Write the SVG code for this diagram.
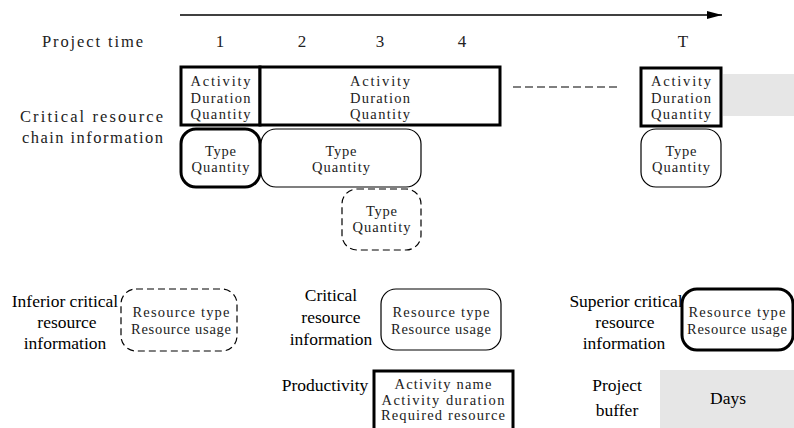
<svg xmlns="http://www.w3.org/2000/svg" width="794" height="428" viewBox="0 0 794 428">
<style>
.mono{font-family:"Liberation Serif","Times New Roman",serif;font-size:16.5px;fill:#222}
.bx{font-family:"Liberation Serif","Times New Roman",serif;font-size:14.5px;fill:#222;text-anchor:middle}
.lbl{font-family:"Liberation Serif","Times New Roman",serif;font-size:17.5px;fill:#000;text-anchor:middle}
.thick{fill:#fff;stroke:#000;stroke-width:3}
.thin{fill:#fff;stroke:#000;stroke-width:1.2}
.dash{fill:#fff;stroke:#000;stroke-width:1.2;stroke-dasharray:7,4}
.grey{fill:#e6e6e6}
</style>
<defs>
<marker id="ah" markerWidth="15" markerHeight="8" refX="15" refY="4" orient="auto" markerUnits="userSpaceOnUse">
<path d="M0,0 L15,4 L0,8 Z" fill="#000"/>
</marker>
</defs>
<rect width="794" height="428" fill="#fff"/>

<g id="connectors">
<line x1="180" y1="15" x2="722" y2="15" stroke="#000" stroke-width="1.3" marker-end="url(#ah)"/>
<line x1="513" y1="87" x2="620" y2="87" stroke="#000" stroke-width="1.2" stroke-dasharray="8,4"/>
</g>

<g id="timeline-labels">
<text class="mono" x="42" y="47" textLength="101">Project time</text>
<g font-family="Liberation Serif, serif" font-size="17" text-anchor="middle" fill="#222">
<text x="220" y="47">1</text>
<text x="302" y="47">2</text>
<text x="380" y="47">3</text>
<text x="462" y="47">4</text>
<text x="683" y="47">T</text>
</g>
<text class="mono" x="20" y="122" textLength="143">Critical resource</text>
<text class="mono" x="22" y="143" textLength="141">chain information</text>
</g>

<g id="activity-1">
<rect class="thick" x="181" y="67" width="79" height="58"/>
<text class="bx" x="220.5" y="86" textLength="60">Activity</text>
<text class="bx" x="220.5" y="103" textLength="60">Duration</text>
<text class="bx" x="220.5" y="119" textLength="60">Quantity</text>
</g>
<g id="activity-2">
<rect class="thick" x="260" y="67" width="240" height="58"/>
<text class="bx" x="380" y="86" textLength="60">Activity</text>
<text class="bx" x="380" y="103" textLength="60">Duration</text>
<text class="bx" x="380" y="119" textLength="60">Quantity</text>
</g>
<g id="activity-T">
<rect class="grey" x="723" y="74" width="71" height="42"/>
<rect class="thick" x="641" y="68" width="80" height="58"/>
<text class="bx" x="681" y="86" textLength="60">Activity</text>
<text class="bx" x="681" y="103" textLength="60">Duration</text>
<text class="bx" x="681" y="119" textLength="60">Quantity</text>
</g>

<g id="type-1">
<rect class="thick" x="181" y="129" width="79" height="58" rx="15"/>
<text class="bx" x="220.5" y="156" textLength="31">Type</text>
<text class="bx" x="220.5" y="172" textLength="58">Quantity</text>
</g>
<g id="type-2">
<rect class="thin" x="261" y="129" width="160" height="58" rx="15"/>
<text class="bx" x="341" y="156" textLength="31">Type</text>
<text class="bx" x="341" y="172" textLength="58">Quantity</text>
</g>
<g id="type-3">
<rect class="dash" x="342" y="189" width="79" height="61" rx="15"/>
<text class="bx" x="381.5" y="216" textLength="31">Type</text>
<text class="bx" x="381.5" y="232" textLength="58">Quantity</text>
</g>
<g id="type-T">
<rect class="thin" x="641" y="129" width="80" height="58" rx="15"/>
<text class="bx" x="681" y="156" textLength="31">Type</text>
<text class="bx" x="681" y="172" textLength="58">Quantity</text>
</g>

<g id="inferior">
<text class="lbl" x="65" y="307">Inferior critical</text>
<text class="lbl" x="67" y="328">resource</text>
<text class="lbl" x="65" y="349">information</text>
<rect class="dash" x="121" y="289" width="116" height="62" rx="15"/>
<text class="bx" x="181" y="317" textLength="97">Resource type</text>
<text class="bx" x="181" y="334" textLength="100">Resource usage</text>
</g>

<g id="critical">
<text class="lbl" x="331" y="301">Critical</text>
<text class="lbl" x="331" y="323">resource</text>
<text class="lbl" x="331" y="345">information</text>
<rect class="thin" x="381" y="289" width="120" height="61" rx="15"/>
<text class="bx" x="441" y="317" textLength="97">Resource type</text>
<text class="bx" x="441" y="334" textLength="100">Resource usage</text>
</g>

<g id="superior">
<text class="lbl" x="626" y="307">Superior critical</text>
<text class="lbl" x="625" y="328">resource</text>
<text class="lbl" x="624" y="349">information</text>
<rect class="thick" x="682" y="289" width="111" height="61" rx="15"/>
<text class="bx" x="737" y="317" textLength="97">Resource type</text>
<text class="bx" x="737" y="334" textLength="100">Resource usage</text>
</g>

<g id="productivity">
<text class="lbl" x="325" y="391">Productivity</text>
<rect class="thick" x="374" y="371" width="139" height="62"/>
<text class="bx" x="443" y="389" textLength="97">Activity name</text>
<text class="bx" x="443" y="405" textLength="123">Activity duration</text>
<text class="bx" x="443" y="420" textLength="124">Required resource</text>
</g>

<g id="project-buffer">
<text class="lbl" x="617" y="391">Project</text>
<text class="lbl" x="617" y="416">buffer</text>
<rect class="grey" x="660" y="370" width="134" height="58"/>
<text class="lbl" x="728" y="404">Days</text>
</g>
</svg>
